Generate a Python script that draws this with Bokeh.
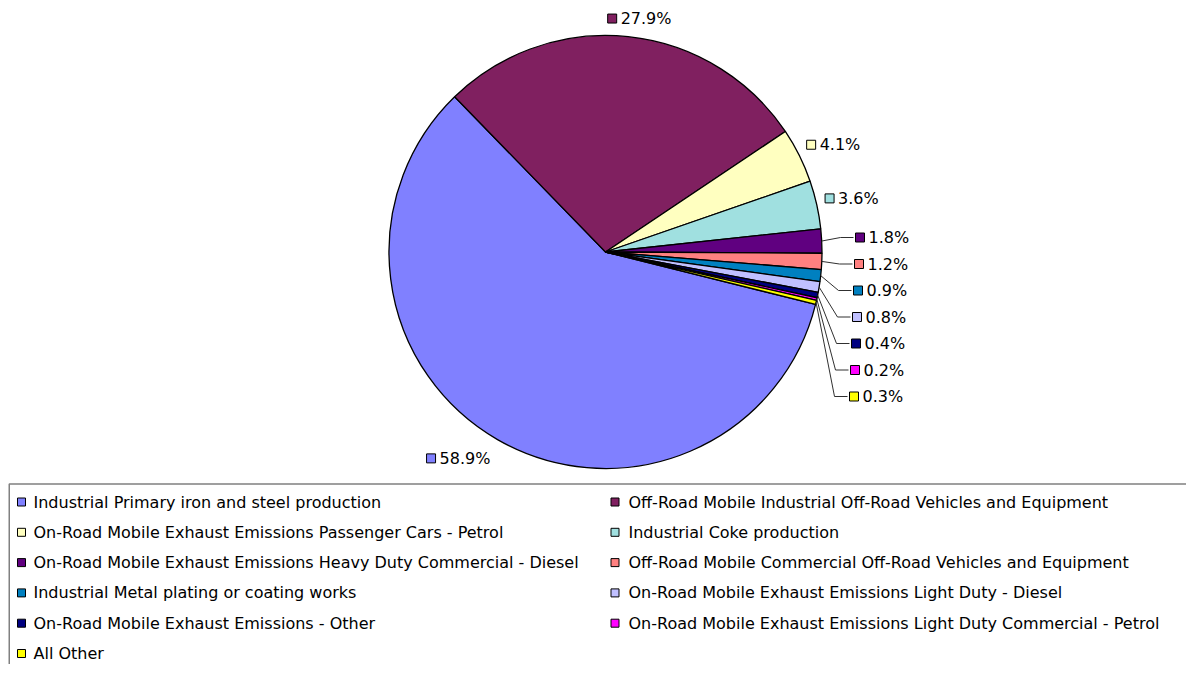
import math
from bokeh.plotting import figure
from bokeh.models import Range1d, ColumnDataSource
from bokeh.core.properties import value
from bokeh.embed import file_html
from bokeh.resources import INLINE

# ---------------- data ----------------
categories = [
    "Industrial Primary iron and steel production",
    "Off-Road Mobile Industrial Off-Road Vehicles and Equipment",
    "On-Road Mobile Exhaust Emissions Passenger Cars - Petrol",
    "Industrial Coke production",
    "On-Road Mobile Exhaust Emissions Heavy Duty Commercial - Diesel",
    "Off-Road Mobile Commercial Off-Road Vehicles and Equipment",
    "Industrial Metal plating or coating works",
    "On-Road Mobile Exhaust Emissions Light Duty - Diesel",
    "On-Road Mobile Exhaust Emissions - Other",
    "On-Road Mobile Exhaust Emissions Light Duty Commercial - Petrol",
    "All Other",
]
shares = [58.9, 27.9, 4.1, 3.6, 1.8, 1.2, 0.9, 0.8, 0.4, 0.2, 0.3]
colors = ["#8080FF", "#802060", "#FFFFC0", "#A0E0E0", "#600080", "#FF8080",
          "#0080C0", "#C0C0FF", "#000080", "#FF00FF", "#FFFF00"]

# ---------------- layout ----------------
W, H = 1186, 664
CX, CY, R = 605, 251.5, 216.5          # pixels from top-left
FIRST_ANGLE = 104.0                    # degrees clockwise from 12 o'clock
FONT = value("DejaVu Sans")
FS = "16px"

def Y(py):
    return -py

p = figure(width=W, height=H, x_range=Range1d(0, W), y_range=Range1d(-H, 0),
           output_backend="svg", toolbar_location=None, min_border=0)
p.axis.visible = False
p.grid.visible = False
p.outline_line_color = None
p.background_fill_color = "white"
p.border_fill_color = "white"

total = sum(shares)
starts, ends, mids = [], [], []
acc = FIRST_ANGLE
for s in shares:
    a0 = acc
    a1 = acc + s / total * 360.0
    starts.append(math.radians(90 - a0))
    ends.append(math.radians(90 - a1))
    mids.append((a0 + a1) / 2)
    acc = a1

src = ColumnDataSource(dict(start=starts, end=ends, color=colors))
p.wedge(x=CX, y=Y(CY), radius=R, radius_units="screen", start_angle="start", end_angle="end",
        direction="clock", fill_color="color", line_color="black", line_width=1.3, source=src)

# ---------------- data labels ----------------
labels = [f"{s:.1f}%" for s in shares]
SQ = 9
nudges = [(-25.5, -6), (9, -1), (4, 4), (2, 1)]   # small layout tweaks for the outside labels
lab_sq_x, lab_sq_y, lab_tx, lab_ty, lab_col, lab_txt = [], [], [], [], [], []
lead_xs, lead_ys = [], []
for i, (lab, phi) in enumerate(zip(labels, mids)):
    sphi, cphi = math.sin(math.radians(phi)), math.cos(math.radians(phi))
    if i < 4:
        w = SQ + 5 + len(lab) * 9.7
        t = R + 6 + abs(sphi) * w / 2 + abs(cphi) * 8
        bx = CX + t * sphi + nudges[i][0]
        by = CY - t * cphi + nudges[i][1]
        left = bx - w / 2
        ly = by
    else:
        k = i - 4
        left = 855 - 1.0 * k
        ly = 237 + 26.5 * k
        ex, ey = CX + R * sphi, CY - R * cphi
        lead_xs.append([ex, left - 15, left - 2])
        lead_ys.append([Y(ey), Y(ly), Y(ly)])
    lab_sq_x.append(left + SQ / 2)
    lab_sq_y.append(Y(ly))
    lab_tx.append(left + SQ + 4)
    lab_ty.append(Y(ly))
    lab_col.append(colors[i])
    lab_txt.append(lab)

p.multi_line(xs=lead_xs, ys=lead_ys, line_color="#303030", line_width=1)
p.rect(x=lab_sq_x, y=lab_sq_y, width=SQ, height=SQ, width_units="screen", height_units="screen",
       fill_color=lab_col, line_color="black", line_width=1)
p.text(x=lab_tx, y=lab_ty, text=lab_txt, text_font=FONT, text_font_size=FS,
       text_baseline="middle", text_align="left", text_color="black")

# ---------------- legend ----------------
LEG_TOP = 483.5
p.quad(left=8.75, right=W + 20, top=Y(LEG_TOP), bottom=Y(H + 20),
       fill_color="white", line_color="#808080", line_width=1.5)
col_sq = [21, 614.5]
col_tx = [33, 628]
row0, dy = 501.5, 30.3
lg_sx, lg_sy, lg_tx, lg_ty = [], [], [], []
for i, c in enumerate(categories):
    col, row = i % 2, i // 2
    yy = row0 + dy * row
    lg_sx.append(col_sq[col])
    lg_sy.append(Y(yy))
    lg_tx.append(col_tx[col])
    lg_ty.append(Y(yy))
p.rect(x=lg_sx, y=lg_sy, width=8, height=8, width_units="screen", height_units="screen",
       fill_color=colors, line_color="black", line_width=1)
p.text(x=lg_tx, y=lg_ty, text=categories, text_font=FONT, text_font_size=FS,
       text_baseline="middle", text_align="left", text_color="black")

open("out.html", "w").write(file_html(p, INLINE))
